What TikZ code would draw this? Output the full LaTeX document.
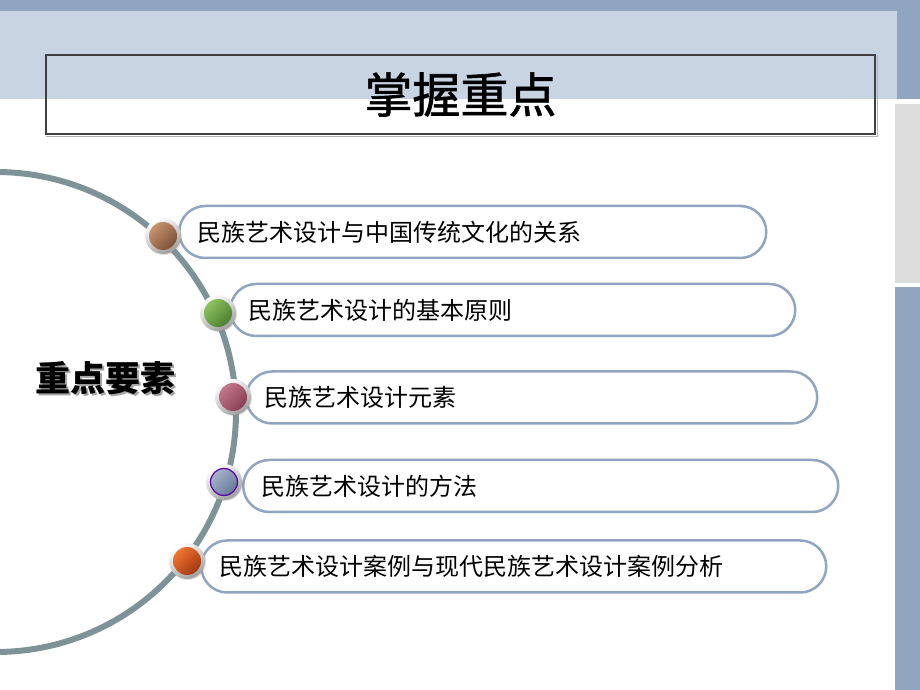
\documentclass[tikz,border=0pt]{standalone}
\usepackage{fontspec}
\newfontfamily\cjk{Noto Sans CJK SC}
\newfontfamily\cjkhead{Noto Sans CJK SC}[FakeBold=1.3]
\usepackage{tikz}
\usetikzlibrary{shadows}

\definecolor{banddark}{HTML}{8FA5C0}
\definecolor{bandlight}{HTML}{C8D4E2}
\definecolor{stripgray}{HTML}{DCDCDC}
\definecolor{arcgray}{HTML}{7D9398}
\definecolor{brownA}{HTML}{C8946F}\definecolor{brownB}{HTML}{7C5037}
\definecolor{greenA}{HTML}{8EC262}\definecolor{greenB}{HTML}{4B7E2E}
\definecolor{roseA}{HTML}{C47889}\definecolor{roseB}{HTML}{873E55}
\definecolor{slateA}{HTML}{A6B5CC}\definecolor{slateB}{HTML}{66779A}
\definecolor{orangeA}{HTML}{F27432}\definecolor{orangeB}{HTML}{A33810}

\newcommand{\shadowtext}[1]{\makebox[0pt][l]{\hspace{2pt}\raisebox{-2pt}{\textcolor{black!35}{#1}}}#1}

\begin{document}
\begin{tikzpicture}[x=1pt,y=1pt,
  pill/.style={rectangle,draw=banddark,line width=2.5pt,fill=white,rounded corners=26pt,minimum height=52pt,inner xsep=18pt,inner ysep=0pt,text width=#1,align=left,anchor=west,font=\cjk\fontsize{24}{28}\selectfont},
  ring/.style={circle,minimum size=36pt,inner sep=0pt,top color=white,bottom color=black!38,shading angle=30,drop shadow={shadow xshift=1pt,shadow yshift=-1pt,opacity=.25}},
  dot/.style 2 args={circle,minimum size=28pt,inner sep=0pt,top color=#1,bottom color=#2,shading angle=45}]
  \useasboundingbox (0,0) rectangle (920,690);

  % slide background
  \fill[banddark] (0,679) rectangle (920,690);
  \fill[banddark] (897,591) rectangle (920,690);
  \fill[bandlight] (0,591) rectangle (897,679);
  \fill[stripgray] (895,407) rectangle (920,586);
  \fill[banddark] (895,0) rectangle (920,403);

  % title
  \node[draw=black!75,line width=1.2pt,minimum width=829pt,minimum height=79pt,inner sep=0pt,font=\cjkhead\fontsize{48}{54}\selectfont] (title) at (460.5,595.5) {掌握重点};
  \draw[black!30,line width=1.2pt] ([xshift=1.6pt,yshift=-1pt]title.north east) |- ([xshift=1pt,yshift=-1.6pt]title.south west);

  % the arc
  \draw[arcgray,line width=6pt] (-4,278) ++(89:240) arc[start angle=89,end angle=-89,radius=240];

  \node[font=\cjk\bfseries\fontsize{35}{40}\selectfont] (key) at (105,311) {\shadowtext{重点要素}};

  % items
  \node[pill=551pt] (p1) at (178,458) {民族艺术设计与中国传统文化的关系};
  \node[pill=529pt] (p2) at (229,380) {民族艺术设计的基本原则};
  \node[pill=535pt] (p3) at (245,292.5) {民族艺术设计元素};
  \node[pill=559pt] (p4) at (242,204) {民族艺术设计的方法};
  \node[pill=589pt] (p5) at (200,123.5) {民族艺术设计案例与现代民族艺术设计案例分析};

  \node[ring] (r1) at (163,454) {};
  \node[dot={brownA}{brownB}] (b1) at (r1) {};
  \node[ring] (r2) at (218,377) {};
  \node[dot={greenA}{greenB}] (b2) at (r2) {};
  \node[ring] (r3) at (233,293) {};
  \node[dot={roseA}{roseB}] (b3) at (r3) {};
  \node[ring] (r4) at (224,208) {};
  \node[dot={slateA}{slateB},draw=violet!70!blue,line width=1.2pt,minimum size=27pt] (b4) at (r4) {};
  \node[ring] (r5) at (187,129) {};
  \node[dot={orangeA}{orangeB}] (b5) at (r5) {};
\end{tikzpicture}
\end{document}
